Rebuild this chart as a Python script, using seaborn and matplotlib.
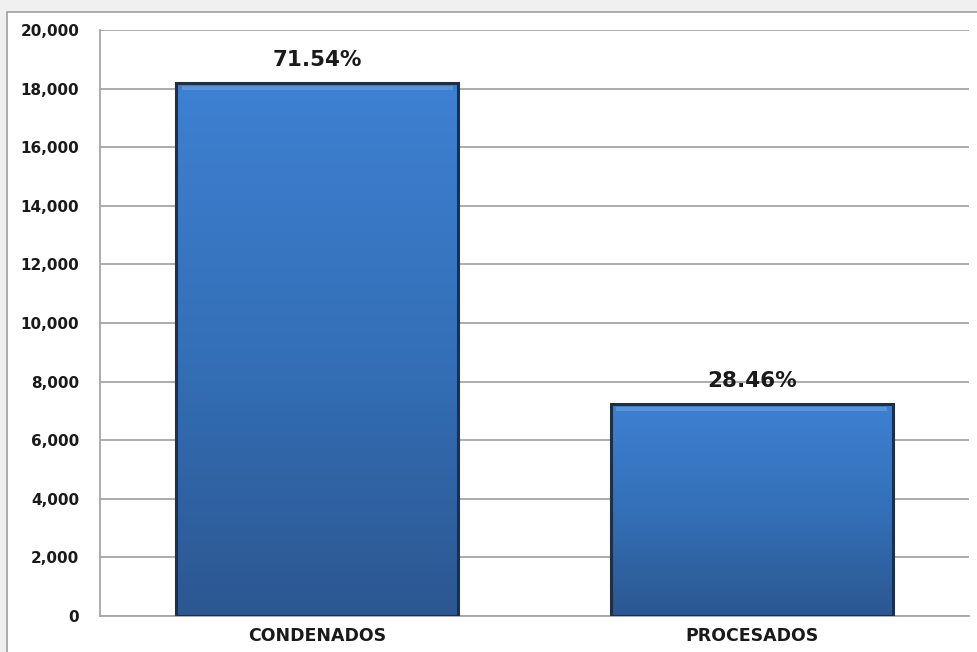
import numpy as np
import pandas as pd
import matplotlib
matplotlib.use("Agg")
import matplotlib.pyplot as plt
import seaborn as sns
from matplotlib.patches import Rectangle
from matplotlib.colors import LinearSegmentedColormap
from matplotlib.ticker import FuncFormatter

categories = ["CONDENADOS", "PROCESADOS"]
values = [18200, 7240]
pct_labels = ["71.54%", "28.46%"]
y_ticks = [0, 2000, 4000, 6000, 8000, 10000, 12000, 14000, 16000, 18000, 20000]

sns.set_theme(style="white")
plt.rcParams["font.family"] = ["DejaVu Sans"]

W, H = 977, 652
fig = plt.figure(figsize=(W / 100, H / 100), dpi=100)
fig.patch.set_facecolor("#f0f0f0")
frame = Rectangle((7 / W, -0.1), 1.2, (H - 12) / H + 0.1,
                  transform=fig.transFigure, facecolor="white",
                  edgecolor="#a0a0a0", linewidth=1.2, zorder=-10)
fig.add_artist(frame)

ax = fig.add_axes([100 / W, (H - 616) / H, (969 - 100) / W, (616 - 30) / H])
ax.set_zorder(5)
ax.patch.set_alpha(0)
df = pd.DataFrame({"cat": categories, "val": values})
sns.barplot(data=df, x="cat", y="val", ax=ax, color="#3a78c6", width=0.65,
            edgecolor="#1c304d", linewidth=2.2, zorder=3, saturation=1)

ax.set_ylim(0, 20000)
ax.set_xlim(-0.5, 1.5)
ax.set_yticks(y_ticks)
ax.yaxis.set_major_formatter(FuncFormatter(lambda v, p: f"{int(v):,}"))
ax.grid(axis="y", color="#a6a6a6", linewidth=1.3, zorder=0)
ax.set_axisbelow(True)
for s in ["right", "top"]:
    ax.spines[s].set_visible(False)
for s in ["left", "bottom"]:
    ax.spines[s].set_color("#a6a6a6")
    ax.spines[s].set_linewidth(1.3)
ax.set_xlabel("")
ax.set_ylabel("")
ax.tick_params(axis="y", length=0, pad=15, labelsize=11, labelcolor="#1a1a1a")
ax.tick_params(axis="x", length=0, pad=8, labelsize=12.5, labelcolor="#1a1a1a")
for lab in ax.get_yticklabels() + ax.get_xticklabels():
    lab.set_fontweight("bold")

cmap = LinearSegmentedColormap.from_list("bluegrad", ["#2c5791", "#3470b8", "#3e80d2"])
grad = np.linspace(0, 1, 256).reshape(-1, 1)
for patch, lab in zip(ax.patches, pct_labels):
    x0, y0 = patch.get_x(), patch.get_y()
    w, h = patch.get_width(), patch.get_height()
    im = ax.imshow(grad, extent=[x0, x0 + w, y0, y0 + h], origin="lower",
                   aspect="auto", cmap=cmap, zorder=3.5)
    im.set_clip_path(patch)
    patch.set_zorder(4)
    patch.set_facecolor("none")
    ax.add_patch(Rectangle((x0 + w * 0.02, y0 + h - 260), w * 0.96, 150,
                           facecolor="#5d9be0", edgecolor="none", zorder=3.6, alpha=0.8))
    ax.annotate(lab, (x0 + w / 2, y0 + h), xytext=(0, 9), textcoords="offset points",
                ha="center", va="bottom", fontsize=15.5, fontweight="bold", color="#1a1a1a")

ax.set_xlim(-0.5, 1.5)
ax.set_ylim(0, 20000)
fig.savefig("out.png", dpi=100, facecolor=fig.get_facecolor())
